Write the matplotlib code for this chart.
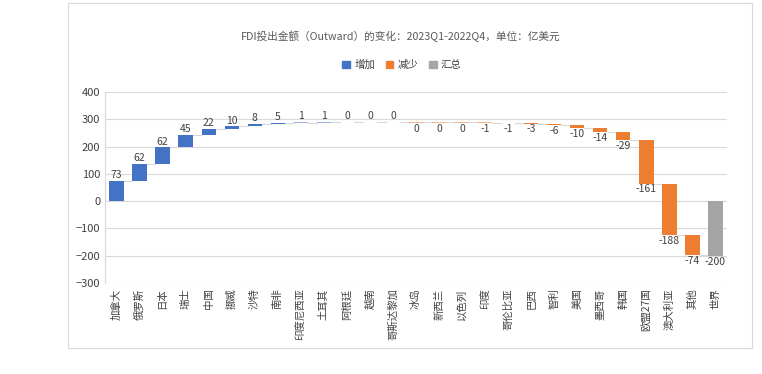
import numpy as np
import matplotlib
matplotlib.use("Agg")
import matplotlib.pyplot as plt
from matplotlib.patches import Rectangle, Patch

plt.rcParams['font.family'] = ['Noto Sans CJK SC', 'DejaVu Sans']

categories = ["加拿大", "俄罗斯", "日本", "瑞士", "中国", "挪威", "沙特", "南非", "印度尼西亚",
              "土耳其", "阿根廷", "越南", "哥斯达黎加", "冰岛", "新西兰", "以色列", "印度",
              "哥伦比亚", "巴西", "智利", "美国", "墨西哥", "韩国", "欧盟27国", "澳大利亚", "其他", "世界"]
changes = [73, 62, 62, 45, 22, 10, 8, 5, 1, 1, 0, 0, 0,
           0, 0, 0, -1, -1, -3, -6, -10, -14, -29, -161, -188, -74]
# sign of zero values as shown in the original (increase / decrease)
kinds = ["up"] * 13 + ["down"] * 13
total = -200

c_up, c_down, c_tot = "#4472C4", "#ED7D31", "#A5A5A5"
grid_c = "#D9D9D9"
text_c = "#404040"

fig = plt.figure(figsize=(7.62, 3.74), dpi=100)
fig.patches.append(Rectangle((68 / 762, 26 / 374), 684 / 762, 345 / 374, transform=fig.transFigure,
                             fill=False, edgecolor="#D9D9D9", linewidth=0.8))
ax = fig.add_axes([105 / 762, 91 / 374, 622 / 762, 191 / 374])

n = len(categories)
x = np.arange(n)
w = 0.62
ends = np.cumsum(changes)
starts = ends - np.array(changes)

for i, (s, e, k, v) in enumerate(zip(starts, ends, kinds, changes)):
    col = c_up if k == "up" else c_down
    h = e - s
    if abs(h) < 2:
        # very small bars show as thin light strips
        h = 2 if k == "up" else -2
        ax.bar(x[i], h, bottom=s, width=w, color=col, alpha=0.55, zorder=3)
    else:
        ax.bar(x[i], h, bottom=s, width=w, color=col, zorder=3)
    if k == "up":
        ax.text(x[i], max(s, s + h) + 3, f"{v}", ha="center", va="bottom", fontsize=7.5, color=text_c)
    else:
        ax.text(x[i], min(s, s + h) - 3, f"{v}", ha="center", va="top", fontsize=7.5, color=text_c)

ax.bar(x[-1], total, width=w, color=c_tot, zorder=3)
ax.text(x[-1], total - 3, f"{total}", ha="center", va="top", fontsize=7.5, color=text_c)

# connector lines
levels = list(ends)
for i in range(n - 1):
    lvl = levels[i]
    ax.plot([x[i] + w / 2, x[i + 1] - w / 2], [lvl, lvl], color="#D9D9D9", linewidth=0.8, zorder=2)

ax.set_xlim(-0.5, n - 0.5)
ax.set_ylim(-300, 400)
ax.set_yticks(np.arange(-300, 401, 100))
ax.yaxis.grid(True, color=grid_c, linewidth=0.8, zorder=0)
ax.set_axisbelow(True)
ax.set_xticks(x)
ax.set_xticklabels(categories, rotation=90, fontsize=7.5, color=text_c)
ax.tick_params(axis="both", length=0, labelsize=8, colors=text_c)
ax.tick_params(axis="x", labelsize=7.5, pad=4)
for sp in ["top", "right", "bottom"]:
    ax.spines[sp].set_visible(False)
ax.spines["left"].set_color(grid_c)
ax.spines["left"].set_linewidth(0.8)

fig.text(401 / 762, (374 - 36) / 374, "FDI投出金额（Outward）的变化：2023Q1-2022Q4，单位：亿美元",
         ha="center", va="center", fontsize=7.7, color="#595959")
handles = [Patch(color=c_up, label="增加"), Patch(color=c_down, label="减少"), Patch(color=c_tot, label="汇总")]
fig.legend(handles=handles, loc="center", bbox_to_anchor=(402 / 762, (374 - 65) / 374), ncol=3, frameon=False,
           fontsize=7.5, handlelength=0.75, handleheight=0.75, columnspacing=1.0, handletextpad=0.4,
           labelcolor=text_c)

fig.savefig("out.png", dpi=100)
